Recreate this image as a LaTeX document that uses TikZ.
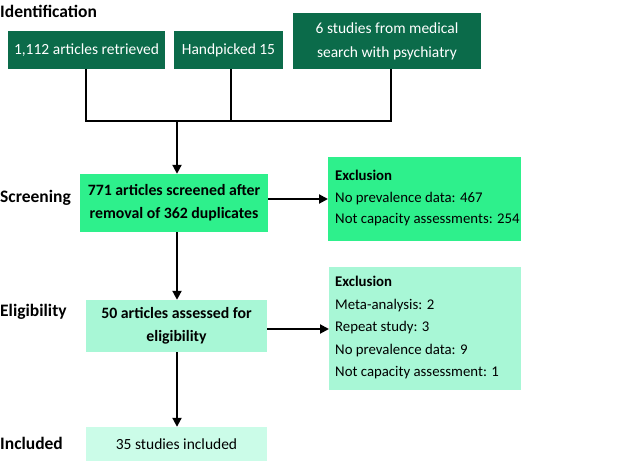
\documentclass[tikz,border=0pt]{standalone}
\usepackage{fontspec}
\setmainfont{Carlito}
\usetikzlibrary{arrows.meta}
\definecolor{darkg}{HTML}{0B6B4A}
\definecolor{brightg}{HTML}{2EF08C}
\definecolor{mintg}{HTML}{A8F7D6}
\definecolor{lightg}{HTML}{CBFCE8}
\tikzset{
  box/.style={rectangle, inner sep=0pt, align=center, font=\fontsize{15.5}{24}\selectfont},
  idbox/.style={box, fill=darkg, text=white},
  exbox/.style={rectangle, inner sep=0pt},
  extext/.style={anchor=north west, inner sep=0pt, align=left},
  stage/.style={anchor=west, inner sep=0pt, font=\fontsize{17.5}{20}\selectfont\bfseries},
  conn/.style={line width=2pt, black},
  arr/.style={conn, -{Triangle[length=9pt,width=9pt]}}
}
\begin{document}
\begin{tikzpicture}[x=1pt,y=-1pt]
\useasboundingbox (0,0) rectangle (640,461);
% stage labels
\node[stage] (lid) at (0,11) {Identification};
\node[stage] (lscr) at (0,198) {Screening};
\node[stage] (lel) at (0,312) {Eligibility};
\node[stage] (lin) at (0,443) {Included};
% identification boxes
\node[idbox, minimum width=157pt, minimum height=38pt] (b1) at (86.5,50) {1,112 articles retrieved};
\node[idbox, minimum width=109pt, minimum height=38pt] (b2) at (228.5,50) {Handpicked 15};
\node[idbox, minimum width=188pt, minimum height=56pt] (b3) at (387,41) {6 studies from medical\\search with psychiatry};
% main flow
\node[box, fill=brightg, font=\fontsize{15.8}{23}\selectfont\bfseries, minimum width=188pt, minimum height=58pt] (scr) at (174,203) {771 articles screened after\\removal of 362 duplicates};
\node[box, fill=mintg, font=\fontsize{15.8}{23}\selectfont\bfseries, minimum width=181pt, minimum height=52pt] (elig) at (176.5,326) {50 articles assessed for\\eligibility};
\node[box, fill=lightg, minimum width=181pt, minimum height=34pt] (inc) at (176.5,444) {35 studies included};
% exclusion boxes
\node[exbox, fill=brightg, anchor=north west, minimum width=193pt, minimum height=84pt] (ex1) at (328,157) {};
\node[extext, font=\fontsize{14.8}{21.5}\selectfont] (ex1t) at (335,170) {\textbf{Exclusion}\\No prevalence data: 467\\Not capacity assessments: 254};
\node[exbox, fill=mintg, anchor=north west, minimum width=192pt, minimum height=123pt] (ex2) at (329,267) {};
\node[extext, font=\fontsize{14.8}{22.5}\selectfont] (ex2t) at (335,276) {\textbf{Exclusion}\\Meta-analysis: 2\\Repeat study: 3\\No prevalence data: 9\\Not capacity assessment: 1};
% connectors
\coordinate (j) at (177,121);
\coordinate (jl) at (86,121);
\coordinate (jm) at (231,121);
\coordinate (jr) at (391,121);
\draw[conn] (b1.south -| jl) -- (jl) -- (jr) -- (b3.south -| jr);
\draw[conn] (b2.south -| jm) -- (jm);
\draw[arr] (j) -- (scr.north -| j);
\draw[arr] (scr.south -| j) -- (elig.north -| j);
\draw[arr] (elig.south -| j) -- (inc.north -| j);
\draw[arr] (scr.east |- 0,199) -- (ex1.west |- 0,199);
\draw[arr] (elig.east |- 0,329) -- (ex2.west |- 0,329);
\end{tikzpicture}
\end{document}
